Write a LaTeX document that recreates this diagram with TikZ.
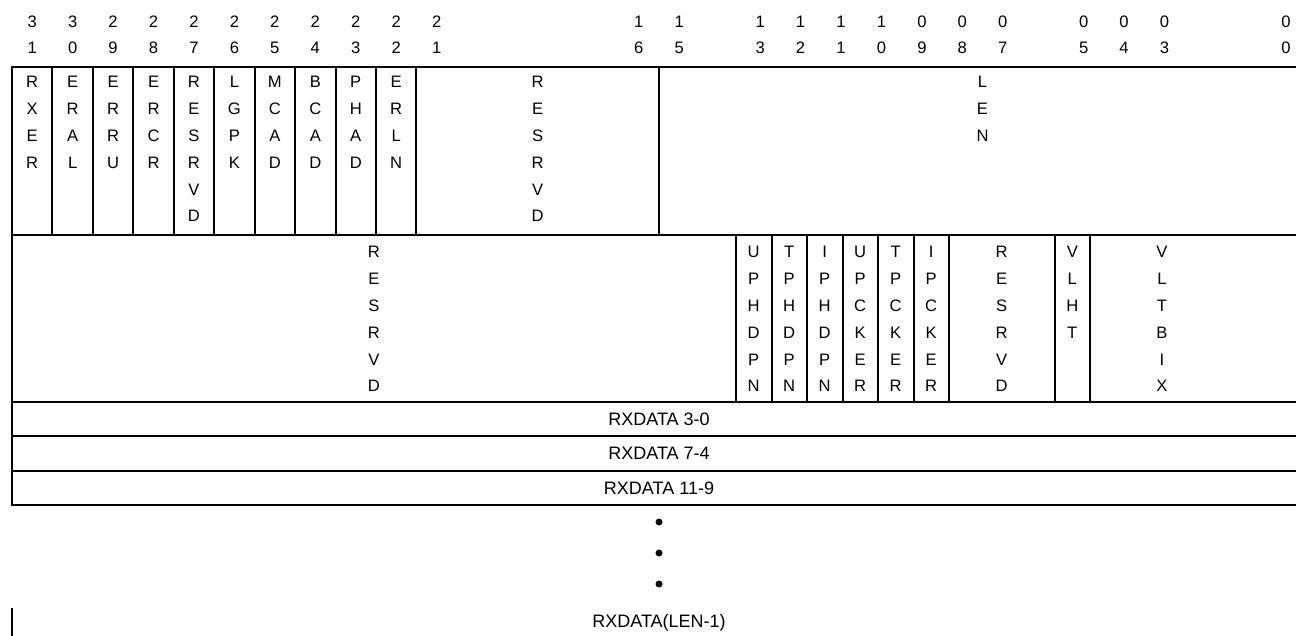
\documentclass[tikz,border=0pt]{standalone}
\usepackage{fontspec}
\setmainfont{Liberation Sans}
\usetikzlibrary{positioning}
\tikzset{
  regline/.style={line width=1pt},
  bitnum/.style={
    anchor=north,
    align=center,
    inner sep=0pt,
    font=\fontsize{8.3}{13}\selectfont
  },
  fieldtxt/.style={
    anchor=north,
    align=center,
    inner sep=0pt,
    font=\fontsize{8.3}{13.4}\selectfont
  },
  datatxt/.style={inner sep=0pt, font=\fontsize{9}{11}\selectfont},
  moredot/.style={circle, fill=black, inner sep=0pt, minimum size=3.5pt}
}

\begin{document}
\begin{tikzpicture}[x=0.5pt, y=-0.5pt]
  \useasboundingbox (0,0) rectangle (1296,636);
  \clip (0,0) rectangle (1296,636);

  % bit numbers over the first word
  \foreach \b/\hi/\lo in {31/3/1, 30/3/0, 29/2/9, 28/2/8, 27/2/7, 26/2/6, 25/2/5,
      24/2/4, 23/2/3, 22/2/2, 21/2/1, 16/1/6, 15/1/5, 13/1/3, 12/1/2, 11/1/1,
      10/1/0, 9/0/9, 8/0/8, 7/0/7, 5/0/5, 4/0/4, 3/0/3, 0/0/0}
    \node[bitnum] (bit\b) at ({32.22+(31-\b)*40.44}, 16) {\hi\\\lo};

  % frame of the rows
  \draw[regline] (12,67) rectangle (1306,235);
  \draw[regline] (12,235) rectangle (1306,402);
  \draw[regline] (12,402) rectangle (1306,436);
  \draw[regline] (12,436) rectangle (1306,470.5);
  \draw[regline] (12,470.5) rectangle (1306,505);

  % first word
  \foreach \k in {1,...,10,16}
    \draw[regline] ({12+\k*40.44},67) -- ({12+\k*40.44},235);
  \node[fieldtxt] (rxer) at (32.22,76) {R\\X\\E\\R};
  \node[fieldtxt] (eral) at (72.66,76) {E\\R\\A\\L};
  \node[fieldtxt] (erru) at (113.10,76) {E\\R\\R\\U};
  \node[fieldtxt] (ercr) at (153.54,76) {E\\R\\C\\R};
  \node[fieldtxt] (resa) at (193.98,76) {R\\E\\S\\R\\V\\D};
  \node[fieldtxt] (lgpk) at (234.42,76) {L\\G\\P\\K};
  \node[fieldtxt] (mcad) at (274.86,76) {M\\C\\A\\D};
  \node[fieldtxt] (bcad) at (315.30,76) {B\\C\\A\\D};
  \node[fieldtxt] (phad) at (355.74,76) {P\\H\\A\\D};
  \node[fieldtxt] (erln) at (396.18,76) {E\\R\\L\\N};
  \node[fieldtxt] (resb) at (537.7,76) {R\\E\\S\\R\\V\\D};
  \node[fieldtxt] (len) at (982.5,76) {L\\E\\N};

  % second word
  \foreach \x in {735.7, 771.7, 806.7, 842.7, 877.7, 913.7, 948.7, 1054.7, 1090}
    \draw[regline] (\x,235) -- (\x,402);
  \node[fieldtxt] (resc) at (373.9,246) {R\\E\\S\\R\\V\\D};
  \node[fieldtxt] (uphdpn) at (753.7,246) {U\\P\\H\\D\\P\\N};
  \node[fieldtxt] (tphdpn) at (789.2,246) {T\\P\\H\\D\\P\\N};
  \node[fieldtxt] (iphdpn) at (824.7,246) {I\\P\\H\\D\\P\\N};
  \node[fieldtxt] (upcker) at (860.2,246) {U\\P\\C\\K\\E\\R};
  \node[fieldtxt] (tpcker) at (895.7,246) {T\\P\\C\\K\\E\\R};
  \node[fieldtxt] (ipcker) at (931.2,246) {I\\P\\C\\K\\E\\R};
  \node[fieldtxt] (resd) at (1001.7,246) {R\\E\\S\\R\\V\\D};
  \node[fieldtxt] (vlht) at (1072.3,246) {V\\L\\H\\T};
  \node[fieldtxt] (vltbix) at (1162,246) {V\\L\\T\\B\\I\\X};

  % data words
  \node[datatxt] (data0) at (659,419) {RXDATA 3-0};
  \node[datatxt] (data1) at (659,453.5) {RXDATA 7-4};
  \node[datatxt] (data2) at (659,488) {RXDATA 11-9};
  \node[moredot] (dot1) at (659,522) {};
  \node[moredot] (dot2) at (659,553) {};
  \node[moredot] (dot3) at (659,584) {};
  \node[datatxt] (datalast) at (659,622.5) {RXDATA(LEN-1)};
  \draw[regline] (12,608) -- (12,640);
\end{tikzpicture}
\end{document}
